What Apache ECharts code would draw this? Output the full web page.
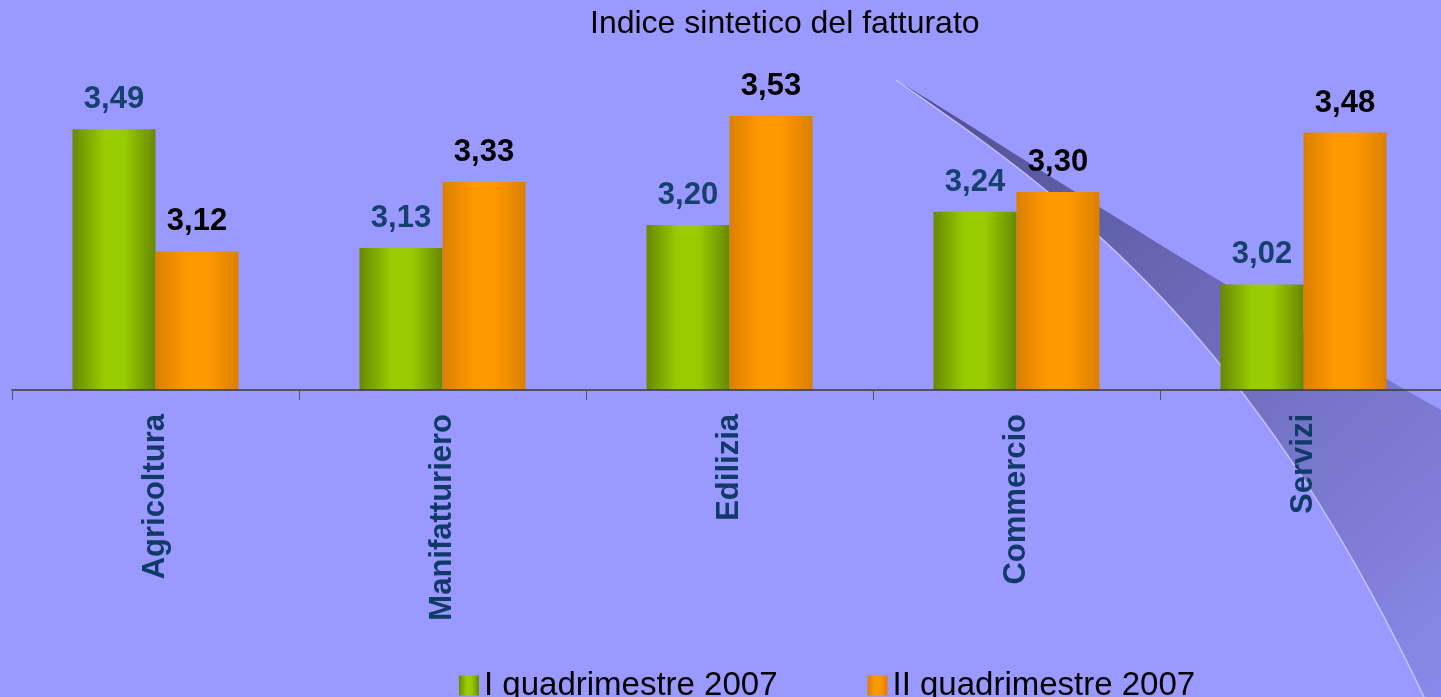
<!DOCTYPE html>
<html>
<head>
<meta charset="utf-8">
<title>Indice sintetico del fatturato</title>
<script src="https://cdn.jsdelivr.net/npm/echarts@6/dist/echarts.min.js"></script>
<style>
  html, body { margin: 0; padding: 0; background: #9999ff; }
  #main { width: 1441px; height: 697px; }
</style>
</head>
<body>
<div id="main"></div>
<script>
// dati
var settori = ['Agricoltura', 'Manifatturiero', 'Edilizia', 'Commercio', 'Servizi'];
var quad1 = [3.49, 3.13, 3.20, 3.24, 3.02];
var quad2 = [3.12, 3.33, 3.53, 3.30, 3.48];
var nomiSerie = ['I quadrimestre 2007', 'II quadrimestre 2007'];

var FONT = '"Liberation Sans", Arial, sans-serif';

function virgola(p){
  return p.value.toFixed(2).replace('.', ',');
}

// gradiente orizzontale stile "cilindro"
function cilindro(scuro, chiaro){
  return {
    type: 'linear', x: 0, y: 0, x2: 1, y2: 0,
    colorStops: [
      {offset: 0, color: scuro},
      {offset: 0.38, color: chiaro},
      {offset: 0.62, color: chiaro},
      {offset: 1, color: scuro}
    ]
  };
}

// punti di una curva di bezier cubica (solo per la decorazione)
function bezier(p0, p1, p2, p3, n){
  var pts = [];
  for(var i = 0; i <= n; i++){
    var t = i / n, u = 1 - t;
    pts.push([
      u*u*u*p0[0] + 3*u*u*t*p1[0] + 3*u*t*t*p2[0] + t*t*t*p3[0],
      u*u*u*p0[1] + 3*u*u*t*p1[1] + 3*u*t*t*p2[1] + t*t*t*p3[1]
    ]);
  }
  return pts;
}
var bordoSup = bezier([896,80], [1000,142], [1150,245], [1441,410], 40);
var bordoInf = bezier([896,80], [1070,200], [1250,330], [1424,697], 40);
var scia = bordoSup.concat([[1441,697]], bordoInf.slice().reverse());

var chart = echarts.init(document.getElementById('main'));
var option = {
  backgroundColor: '#9999ff',
  animation: false,
  title: {
    text: 'Indice sintetico del fatturato',
    left: 585,
    top: 3,
    textStyle: {
      fontFamily: FONT,
      fontSize: 32,
      fontWeight: 'normal',
      color: '#000'
    }
  },
  legend: {
    data: nomiSerie,
    left: 454,
    top: 664,
    itemWidth: 20,
    itemHeight: 20,
    itemGap: 90,
    icon: 'rect',
    textStyle: {
      fontFamily: FONT,
      fontSize: 33,
      color: '#000'
    }
  },
  grid: {
    left: 12,
    right: -6,
    top: 93,
    height: 297,
    containLabel: false,
    outerBoundsMode: 'none'
  },
  // decorazione: la "scia" blu dietro le barre
  graphic: [
    {
      type: 'polygon',
      z: 1,
      silent: true,
      shape: {points: scia},
      style: {
        fill: {
          type: 'linear', x: 0, y: 0, x2: 1, y2: 1,
          colorStops: [
            {offset: 0, color: '#4e4e92'},
            {offset: 0.45, color: '#6a6ab8'},
            {offset: 1, color: '#8989ea'}
          ]
        }
      }
    },
    {
      type: 'polyline',
      z: 1,
      silent: true,
      shape: {points: bordoInf},
      style: {
        fill: null,
        stroke: 'rgba(215,215,255,0.7)',
        lineWidth: 1.5
      }
    }
  ],
  xAxis: {
    type: 'category',
    data: settori,
    z: 5,
    axisLine: {lineStyle: {color: '#3a3a3a', width: 1.5}},
    axisTick: {show: true, length: 10, lineStyle: {color: '#555'}},
    axisLabel: {
      rotate: 90,
      margin: 24,
      fontFamily: FONT,
      fontSize: 31,
      fontWeight: 'bold',
      color: '#123a68'
    },
    splitLine: {show: false}
  },
  yAxis: {
    type: 'value',
    min: 2.7,
    max: 3.6,
    show: false
  },
  series: [
    {
      name: nomiSerie[0],
      type: 'bar',
      z: 3,
      barWidth: 83,
      barGap: '0%',
      data: quad1,
      itemStyle: {color: cilindro('#678900', '#99cc00')},
      label: {
        show: true,
        position: 'top',
        distance: 14,
        formatter: virgola,
        fontFamily: FONT,
        fontSize: 31,
        fontWeight: 'bold',
        color: '#16406e'
      }
    },
    {
      name: nomiSerie[1],
      type: 'bar',
      z: 3,
      barWidth: 83,
      data: quad2,
      itemStyle: {color: cilindro('#db7f00', '#ff9900')},
      label: {
        show: true,
        position: 'top',
        distance: 14,
        formatter: virgola,
        fontFamily: FONT,
        fontSize: 31,
        fontWeight: 'bold',
        color: '#000'
      }
    }
  ]
};
chart.setOption(option);

window.onresize = function(){
  chart.resize();
};
</script>
</body>
</html>
